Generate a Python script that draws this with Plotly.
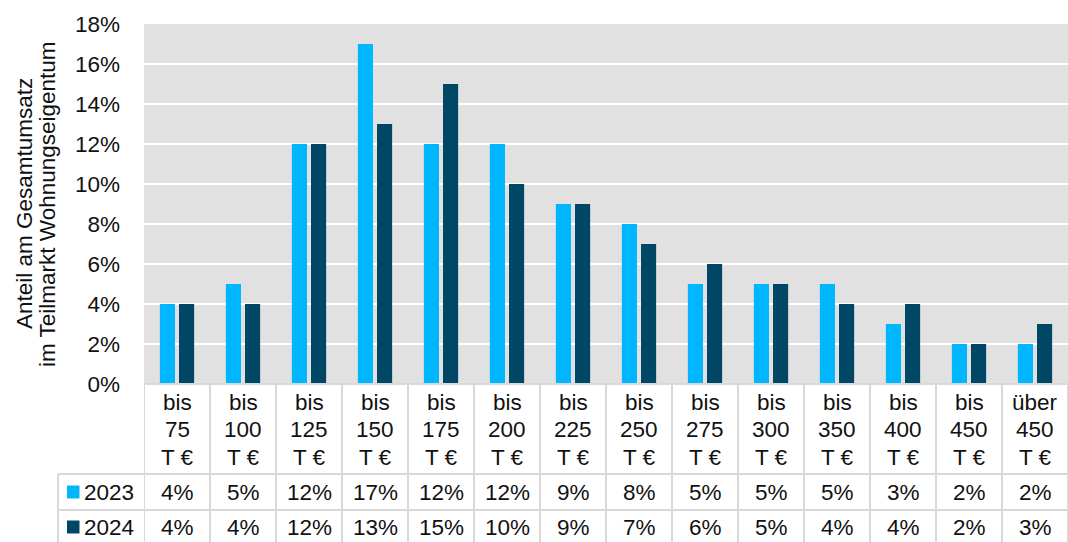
import plotly.graph_objects as go

categories = ["bis<br>75<br>T €", "bis<br>100<br>T €", "bis<br>125<br>T €", "bis<br>150<br>T €",
              "bis<br>175<br>T €", "bis<br>200<br>T €", "bis<br>225<br>T €", "bis<br>250<br>T €",
              "bis<br>275<br>T €", "bis<br>300<br>T €", "bis<br>350<br>T €", "bis<br>400<br>T €",
              "bis<br>450<br>T €", "über<br>450<br>T €"]
series_names = ["2023", "2024"]
values_2023 = [4, 5, 12, 17, 12, 12, 9, 8, 5, 5, 5, 3, 2, 2]
values_2024 = [4, 4, 12, 13, 15, 10, 9, 7, 6, 5, 4, 4, 2, 3]
y_ticks = [0, 2, 4, 6, 8, 10, 12, 14, 16, 18]
y_title_lines = ["Anteil am Gesamtumsatz", "im Teilmarkt Wohnungseigentum"]

colors = ["#00B6FF", "#004766"]
FONT = "Liberation Sans, Arial, sans-serif"
FS = 22.5
TXT = "#111111"
GRID = "#d9d9d9"

W, H = 1068, 542
L, R, T, B = 144, 0, 24, 158
PW, PH = W - L - R, H - T - B

def py(pix):  # pixel y -> paper y
    return (H - B - pix) / PH

def px(pix):  # pixel x -> paper x
    return (pix - L) / PW

n = len(categories)
xs = list(range(n))

fig = go.Figure()
for name, vals, col in zip(series_names, [values_2023, values_2024], colors):
    fig.add_trace(go.Bar(x=xs, y=vals, name=name, marker=dict(color=col, line=dict(width=0)),
                         showlegend=False))

shapes = []
annotations = []
for i in range(n + 1):
    shapes.append(dict(type="line", xref="x", yref="paper", x0=i - 0.5, x1=i - 0.5,
                       y0=0, y1=py(545), line=dict(color=GRID, width=2)))
shapes.append(dict(type="line", xref="paper", yref="paper", x0=0, x1=1, y0=0, y1=0,
                   line=dict(color=GRID, width=2)))
for ypix in [474, 510]:
    shapes.append(dict(type="line", xref="paper", yref="paper", x0=px(58), x1=1,
                       y0=py(ypix), y1=py(ypix), line=dict(color=GRID, width=2)))
shapes.append(dict(type="line", xref="paper", yref="paper", x0=px(58), x1=px(58),
                   y0=py(474), y1=py(545), line=dict(color=GRID, width=2)))

# category labels (table header cells), one text line at a time
for i, cat in enumerate(categories):
    for k, part in enumerate(cat.split("<br>")):
        annotations.append(dict(text=part, xref="x", yref="paper", x=i, y=py(402 + 27.5 * k),
                                xanchor="center", yanchor="middle", showarrow=False,
                                font=dict(family=FONT, size=FS, color=TXT)))

row_centers = [492, 527]
for r, (name, vals, col) in enumerate(zip(series_names, [values_2023, values_2024], colors)):
    yc = row_centers[r]
    shapes.append(dict(type="rect", xref="paper", yref="paper", x0=px(67), x1=px(79.5),
                       y0=py(yc + 6.5), y1=py(yc - 6.5), fillcolor=col, line=dict(width=0)))
    annotations.append(dict(text=name, xref="paper", yref="paper", x=px(82), y=py(yc),
                            xanchor="left", yanchor="middle", showarrow=False,
                            font=dict(family=FONT, size=FS, color=TXT)))
    for i, v in enumerate(vals):
        annotations.append(dict(text=f"{v}%", xref="x", yref="paper", x=i, y=py(yc),
                                xanchor="center", yanchor="middle", showarrow=False,
                                font=dict(family=FONT, size=FS, color=TXT)))

for line_text, xpix in zip(y_title_lines, [24, 47]):
    annotations.append(dict(text=line_text, xref="paper", yref="paper", x=px(xpix), y=py(204),
                            textangle=-90, xanchor="center", yanchor="middle", showarrow=False,
                            font=dict(family=FONT, size=FS, color=TXT)))

fig.update_layout(
    width=W, height=H,
    margin=dict(l=L, r=R, t=T, b=B, pad=0),
    paper_bgcolor="white", plot_bgcolor="#e1e1e1",
    barmode="group", bargap=0.42, bargroupgap=0.21,
    font=dict(family=FONT, size=FS, color=TXT),
    shapes=shapes, annotations=annotations,
    xaxis=dict(range=[-0.5, n - 0.5], tickmode="array", tickvals=xs, showticklabels=False,
               showgrid=False, zeroline=False, ticks="", showline=False),
    yaxis=dict(range=[0, 18], tickmode="array", tickvals=y_ticks,
               ticktext=[f"{t}%" for t in y_ticks], showgrid=True, gridcolor="white",
               gridwidth=2, zeroline=False, ticks="", showline=False,
               tickfont=dict(family=FONT, size=FS, color=TXT), ticklabelstandoff=23),
)

fig.write_html("out.html", config={"displayModeBar": False},
               post_script="document.body.style.margin='0';")
